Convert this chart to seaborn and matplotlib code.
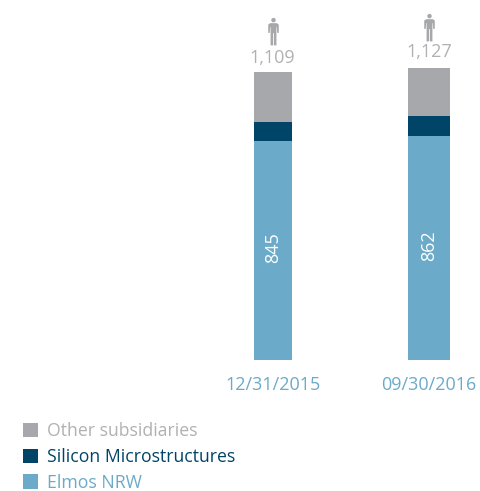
import matplotlib
matplotlib.use("Agg")
import matplotlib.pyplot as plt
import seaborn as sns
from matplotlib.path import Path
from matplotlib.transforms import ScaledTranslation

dates = ["12/31/2015", "09/30/2016"]
series = ["Elmos NRW", "Silicon Microstructures", "Other subsidiaries"]
elmos = [845, 862]
silicon = [73, 77]
other = [191, 188]
totals = ["1,109", "1,127"]
colors = ["#6BABC9", "#004467", "#A7A8AB"]
text_colors = ["#6BABC9", "#004467", "#B0B1B3"]
bar_widths = [38 / 156.5, 42 / 156.5]

sns.set_theme(style="white")
plt.rcParams["font.family"] = ["Open Sans", "DejaVu Sans"]

W, H = 480, 491
fig = plt.figure(figsize=(W / 100, H / 100), dpi=100)
base_px, top_px = 360, 0
ax = fig.add_axes([0, (H - base_px) / H, 1, (base_px - top_px) / H])

values = [elmos, silicon, other]
for j, name in enumerate(series):
    for i, d in enumerate(dates):
        bottom = sum(values[k][i] for k in range(j))
        sns.barplot(x=[d], y=[values[j][i]], order=dates, bottom=bottom, width=bar_widths[i],
                    color=colors[j], saturation=1, ax=ax,
                    label=name if i == 0 else None, legend=False, linewidth=0)

ax.set_xlim(-272.7 / 156.5, (W - 272.7) / 156.5)
ax.set_ylim(0, 360 / 0.2595)
sns.despine(ax=ax, left=True, bottom=True, top=True, right=True)
ax.set_yticks([])
ax.set_xlabel("")
ax.set_ylabel("")
ax.tick_params(axis="x", length=0, pad=11.5, labelsize=13, labelcolor=colors[0])

# person icon marker
head = Path.circle((0, 0.82), 0.16)
body = Path([(-0.24, 0.60), (0.24, 0.60), (0.38, 0.50), (0.38, -0.10), (0.27, -0.10), (0.24, 0.32),
             (0.21, 0.32), (0.21, -1.0), (0.03, -1.0), (0.03, -0.12), (-0.03, -0.12), (-0.03, -1.0),
             (-0.21, -1.0), (-0.21, 0.32), (-0.24, 0.32), (-0.27, -0.10), (-0.38, -0.10), (-0.38, 0.50),
             (-0.24, 0.60)], closed=True)
person = Path.make_compound_path(head, body)

for i, d in enumerate(dates):
    total = elmos[i] + silicon[i] + other[i]
    ax.annotate(str(elmos[i]), (i, elmos[i] / 2), xytext=(0, 2), textcoords="offset points",
                rotation=90, ha="center", va="center", color="white", fontsize=13)
    ax.annotate(totals[i], (i, total), xytext=(0, 3.5 + 1.5 * i), textcoords="offset points",
                ha="center", va="bottom", color=text_colors[2], fontsize=13)
    ax.plot([i], [total], marker=person, markersize=20, color=colors[2], linestyle="none",
            markeredgewidth=0, clip_on=False,
            transform=ax.transData + ScaledTranslation(0, 41 / 100, fig.dpi_scale_trans))

handles, labels = ax.get_legend_handles_labels()
seen = {}
for h, l in zip(handles, labels):
    seen.setdefault(l, h)
order = series[::-1]
leg = ax.legend([seen[s] for s in order], order, loc="upper left", bbox_to_anchor=(23 / W, (H - 422) / H),
                bbox_transform=fig.transFigure, frameon=False, fontsize=12.7, handlelength=0.87,
                handleheight=0.87, handletextpad=0.5, labelspacing=0.44, borderpad=0, borderaxespad=0,
                labelcolor=[text_colors[2], text_colors[1], text_colors[0]])

fig.savefig("out.png", dpi=100, facecolor="white")
